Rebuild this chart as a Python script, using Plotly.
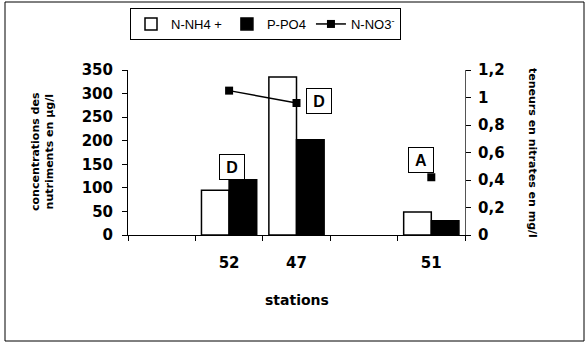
import plotly.graph_objects as go

stations = ["", "52", "47", "", "51"]
nh4 = [None, 95, 335, None, 49]
po4 = [None, 117, 202, None, 30]
no3 = [None, 1.05, 0.96, None, 0.42]
left_ticks = [0, 50, 100, 150, 200, 250, 300, 350]
right_ticks = [0, 0.2, 0.4, 0.6, 0.8, 1.0, 1.2]
labels = [("D", 1, 144, 3), ("D", 2, 284, 22), ("A", 4, 159, -10)]

W, H = 588, 343
L, R, T, B = 128, 123, 70, 108
pw, ph = W - L - R, H - T - B
def px(xp):
    return (xp - L) / pw
def py(yp):
    return (H - B - yp) / ph

FONT = "Liberation Sans, Arial, sans-serif"
WIDE = "DejaVu Sans, sans-serif"
xs = list(range(len(stations)))
lab_idx = [i for i, s in enumerate(stations) if s]

fig = go.Figure()
fig.add_trace(go.Bar(x=xs, y=nh4, name="N-NH4 +", marker=dict(color="white", line=dict(color="black", width=1.5))))
fig.add_trace(go.Bar(x=xs, y=po4, name="P-PO4", marker=dict(color="black", line=dict(color="black", width=1.5))))
fig.add_trace(go.Scatter(x=xs, y=no3, name="N-NO3<sup>-</sup>", yaxis="y2", mode="lines+markers",
                         line=dict(color="black", width=1.5), marker=dict(symbol="square", size=8, color="black"),
                         connectgaps=False))

annotations = []
for txt, xi, yv, sh in labels:
    annotations.append(dict(x=xi, y=yv, xref="x", yref="y", text="<b>%s</b>" % txt, showarrow=False,
                            xshift=sh, xanchor="center", yanchor="middle",
                            font=dict(family=FONT, size=16, color="black"),
                            bordercolor="black", borderwidth=1, borderpad=2, bgcolor="white", width=20, height=20))
annotations.append(dict(x=px(42), y=py(152), xref="paper", yref="paper", textangle=-90, showarrow=False,
                        xanchor="center", yanchor="middle",
                        text="<b>concentrations des<br>nutriments en µg/l</b>",
                        font=dict(family=WIDE, size=11, color="black")))
annotations.append(dict(x=px(533), y=py(153), xref="paper", yref="paper", textangle=90, showarrow=False,
                        xanchor="center", yanchor="middle",
                        text="<b>teneurs en nitrates en mg/l</b>",
                        font=dict(family=WIDE, size=11, color="black")))
annotations.append(dict(x=0.5, y=py(300), xref="paper", yref="paper", showarrow=False,
                        xanchor="center", yanchor="middle",
                        text="<b>stations</b>", font=dict(family=WIDE, size=14, color="black")))

tickfont = dict(family=WIDE, size=15, weight="bold", color="black")

fig.update_layout(
    width=W, height=H, margin=dict(l=L, r=R, t=T, b=B, autoexpand=False),
    paper_bgcolor="white", plot_bgcolor="white",
    separators=", ",
    barmode="group", bargap=0.18, bargroupgap=0,
    font=dict(family=FONT, color="black"),
    showlegend=True,
    legend=dict(orientation="h", xref="container", yref="container", x=130 / W, y=1 - 8 / H,
                xanchor="left", yanchor="top",
                bordercolor="black", borderwidth=1, bgcolor="white",
                font=dict(family=FONT, size=13, color="black"), traceorder="normal",
                itemwidth=30, tracegroupgap=0),
    xaxis=dict(range=[-0.5, len(stations) - 0.5], tickvals=lab_idx, ticktext=[stations[i] for i in lab_idx],
               ticks="", automargin=False,
               showline=True, linecolor="black", linewidth=1, showgrid=False, zeroline=False,
               tickfont=tickfont, ticklabelstandoff=14,
               minor=dict(tickmode="array", tickvals=[i - 0.5 for i in range(len(stations) + 1)],
                          ticks="outside", ticklen=5, tickcolor="black", showgrid=False)),
    yaxis=dict(range=[0, 350], tickvals=left_ticks, ticks="outside", ticklen=5, tickcolor="black",
               showline=True, linecolor="black", linewidth=1, showgrid=False, zeroline=False,
               automargin=False, tickfont=tickfont, ticklabelstandoff=6),
    yaxis2=dict(range=[0, 1.2], tickvals=right_ticks, overlaying="y", side="right", ticks="outside",
                ticklen=5, tickcolor="black", showline=True, linecolor="#555", linewidth=1,
                showgrid=False, zeroline=False, automargin=False, tickfont=tickfont, ticklabelstandoff=4),
    annotations=annotations,
    shapes=[dict(type="rect", xref="paper", yref="paper", x0=px(5), x1=px(584), y0=py(341), y1=py(2),
                 line=dict(color="black", width=1), layer="below")],
)

fig.write_html("out.html", config={"displayModeBar": False},
               post_script="document.body.style.margin='0px';")
